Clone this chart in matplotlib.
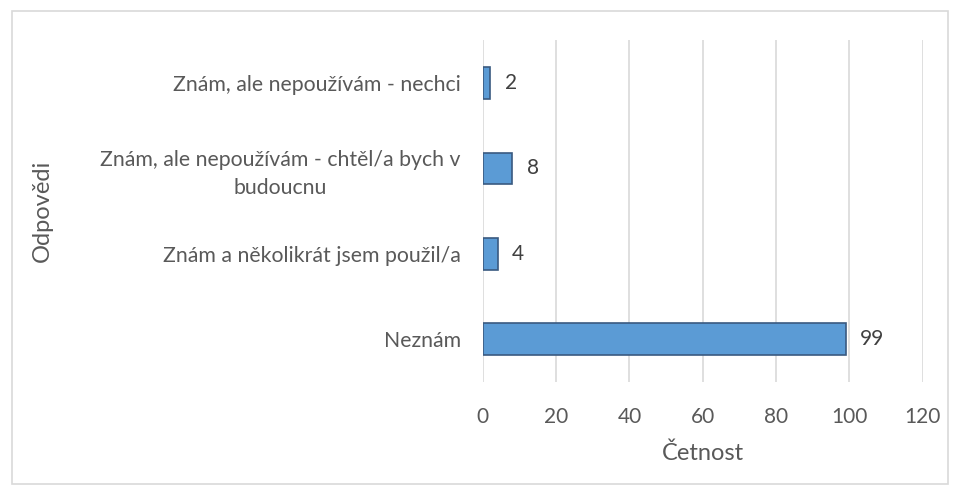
import matplotlib
matplotlib.use('Agg')
import matplotlib.pyplot as plt
from matplotlib.patches import Rectangle

categories = ['Neznám',
              'Znám a několikrát jsem použil/a',
              'Znám, ale nepoužívám - chtěl/a bych v\nbudoucnu',
              'Znám, ale nepoužívám - nechci']
counts = [99, 4, 8, 2]
xticks = [0, 20, 40, 60, 80, 100, 120]

plt.rcParams['font.family'] = ['Lato', 'DejaVu Sans']
txt = '#595959'

fig = plt.figure(figsize=(9.6, 4.96), dpi=100)
ax = fig.add_axes([0.503, 0.23, 0.458, 0.689])

pos = list(range(len(categories)))
bars = ax.barh(pos, counts, height=0.37, color='#5B9BD5',
               edgecolor='#3A5A80', linewidth=1.2, zorder=3)

for b, v in zip(bars, counts):
    ax.text(b.get_width() + 4, b.get_y() + b.get_height() / 2, str(v),
            va='center', ha='left', fontsize=15, color='#404040')

ax.set_xlim(0, 120)
ax.set_ylim(-0.5, len(categories) - 0.5)
ax.set_xticks(xticks)
ax.set_yticks(pos)
ax.set_yticklabels(categories, fontsize=15.3, color=txt, ha='right',
                   multialignment='center', linespacing=1.45)
ax.tick_params(axis='y', length=0, pad=16)
ax.tick_params(axis='x', length=0, labelsize=15, labelcolor=txt, pad=18)
ax.grid(axis='x', color='#D9D9D9', linewidth=1.2, zorder=0)
for s in ax.spines.values():
    s.set_visible(False)

ax.set_xlabel('Četnost', fontsize=17, color=txt, labelpad=11)
fig.text(0.044, 0.575, 'Odpovědi', rotation=90, fontsize=17, color=txt,
         ha='center', va='center')

fig.patches.append(Rectangle((0.012, 0.024), 0.976, 0.953, transform=fig.transFigure,
                             fill=False, edgecolor='#D9D9D9', linewidth=1.2))

plt.savefig('out.png', dpi=100)
plt.close()
